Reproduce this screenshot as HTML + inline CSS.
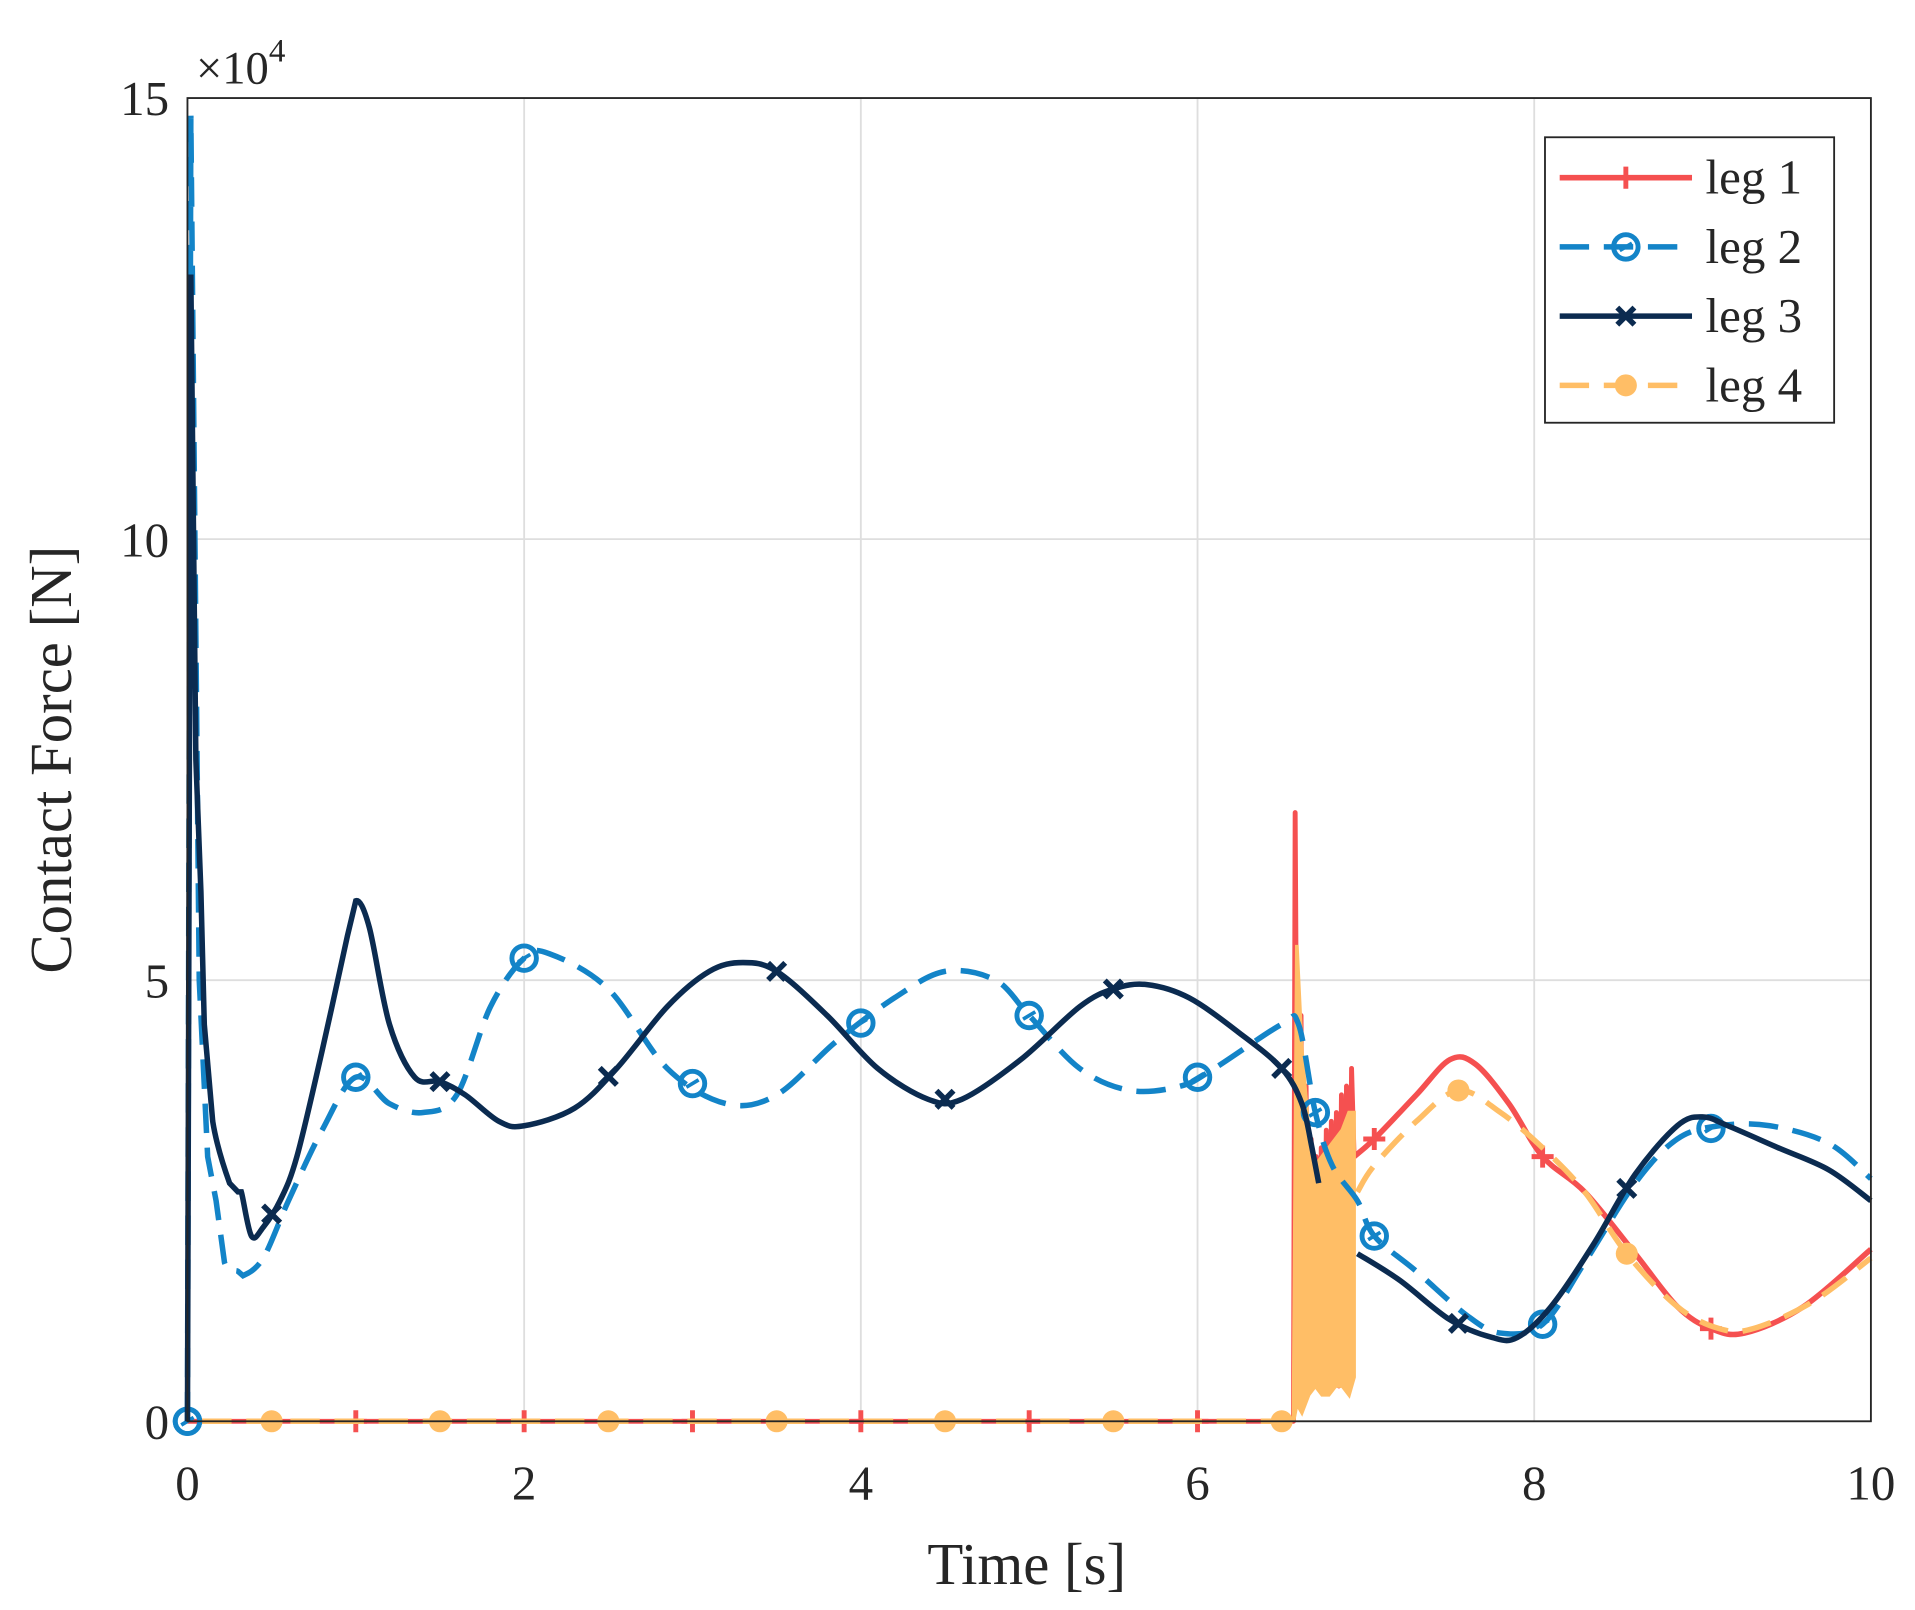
<!DOCTYPE html>
<html><head><meta charset="utf-8"><style>
html,body{margin:0;padding:0;background:#fff;}
svg{display:block;}
text{font-family:"Liberation Serif",serif;fill:#262626;}
</style></head><body>
<svg id="chart" width="1915" height="1610" viewBox="0 0 1563 1314" xmlns="http://www.w3.org/2000/svg">
<rect x="0" y="0" width="1563" height="1314" fill="#fff"/>
<g id="grid"></g>
<g id="series"></g>
<g id="axes"></g>
<text x="160" y="68" font-size="38">×10<tspan font-size="27" dy="-18">4</tspan></text>
<text x="838" y="1293" font-size="48" text-anchor="middle">Time [s]</text>
<text transform="translate(58,620) rotate(-90)" font-size="48" text-anchor="middle">Contact Force [N]</text>
<g id="legend"></g>
</svg>
<script>
const xTicks=[0,2,4,6,8,10];
const yTicks=[0,5,10,15];
// leg 3 (dark)
const t3=[0,0.02,0.05,0.08,0.1,0.15,0.25,0.3,0.32,0.38,0.45,0.55,0.65,0.8,0.95,1.0,1.08,1.2,1.35,1.5,1.65,1.85,2.0,2.3,2.55,2.85,3.1,3.3,3.5,3.8,4.1,4.4,4.6,4.95,5.3,5.5,5.7,5.95,6.25,6.5,6.62,6.68,6.72];
const v3=[0,13,7.5,6,4.5,3.4,2.7,2.6,2.6,2.1,2.2,2.5,3.0,4.2,5.5,5.9,5.6,4.5,3.9,3.85,3.7,3.4,3.35,3.55,4.0,4.7,5.1,5.2,5.1,4.6,4.0,3.65,3.65,4.1,4.7,4.9,4.95,4.8,4.4,4.0,3.6,3.1,2.7];
const t3b=[6.95,7.2,7.5,7.75,7.9,8.1,8.35,8.6,8.85,9.0,9.15,9.45,9.75,10];
const v3b=[1.9,1.6,1.15,0.95,0.95,1.3,2.0,2.8,3.35,3.45,3.35,3.1,2.85,2.5];
const m3=[0.5,1.5,2.5,3.5,4.5,5.5,6.5,7.55,8.55];
// leg 2 (blue dashed)
const t2=[0,0.02,0.07,0.12,0.17,0.22,0.3,0.33,0.45,0.6,0.8,1.0,1.2,1.4,1.6,1.8,2.0,2.15,2.5,2.85,3.2,3.5,3.85,4.2,4.5,4.8,5.0,5.3,5.6,5.9,6.1,6.5,6.6,6.7,6.8,6.95,7.05,7.3,7.6,7.8,8.05,8.3,8.6,8.85,9.1,9.4,9.75,10];
const v2=[0,14.8,5,3,2.5,1.8,1.7,1.65,1.85,2.5,3.3,3.9,3.6,3.5,3.7,4.7,5.25,5.3,4.9,4.0,3.6,3.7,4.3,4.8,5.1,5.0,4.6,4.0,3.75,3.8,4.0,4.5,4.5,3.5,2.9,2.5,2.1,1.7,1.2,1.0,1.1,1.8,2.7,3.2,3.35,3.35,3.15,2.75];
const m2=[0,1,2,3,4,5,6,6.7,7.05,8.05,9.05];
// leg 1 (red): baseline, spike/oscillation, smooth tail
const t1=[0,6.57,6.58,6.6,6.615,6.63,6.645,6.66,6.675,6.69,6.705,6.72,6.735,6.75,6.765,6.78,6.795,6.81,6.825,6.84,6.855,6.87,6.885,6.9,6.915,6.93];
const v1=[0,0,6.9,0.2,4.6,0.3,3.8,0.4,3.2,0.5,3.0,0.4,3.1,0.5,3.3,0.4,3.4,0.5,3.5,0.4,3.7,0.5,3.8,0.4,4.0,3.0];
const t1b=[6.93,7.05,7.3,7.5,7.65,7.85,8.05,8.3,8.6,8.85,9.05,9.25,9.6,10];
const v1b=[3.0,3.2,3.7,4.1,4.05,3.6,3.0,2.6,1.9,1.3,1.05,1.0,1.3,1.95];
const m1=[1,2,3,4,5,6,7.05,8.05,9.05];
// leg 4 (orange dashed) + oscillation band
const t4=[6.95,7.05,7.3,7.55,7.8,8.05,8.3,8.55,8.85,9.1,9.3,9.65,10];
const v4=[2.6,2.9,3.4,3.75,3.5,3.1,2.6,1.9,1.3,1.05,1.05,1.35,1.85];
const tBand=[6.57,6.59,6.62,6.66,6.7,6.74,6.78,6.82,6.86,6.9,6.93];
const bandHi=[0,5.4,4.2,3.3,2.9,3.0,3.1,3.2,3.3,3.5,3.5];
const bandLo=[0,0.2,0.1,0.3,0.4,0.3,0.3,0.4,0.4,0.3,0.5];
const m4=[0.5,1.5,2.5,3.5,4.5,5.5,6.5,7.55,8.55];

const X0=153,X1=1527,Y0=1160,Y1=80;
const sx=t=>X0+(X1-X0)*t/10;
const sy=v=>Y0-(Y0-Y1)*v/15;
const NS='http://www.w3.org/2000/svg';
function mk(tag,parent,attrs){const e=document.createElementNS(NS,tag);for(const k in attrs)e.setAttribute(k,attrs[k]);parent.appendChild(e);return e;}
function interp(ts,vs,t){for(let i=1;i<ts.length;i++){if(t<=ts[i]){const f=(t-ts[i-1])/(ts[i]-ts[i-1]||1);return vs[i-1]+f*(vs[i]-vs[i-1]);}}return vs[vs.length-1];}
function linePath(ts,vs){return 'M'+ts.map((t,i)=>sx(t)+','+sy(vs[i])).join(' L');}
function smoothPath(ts,vs){const p=ts.map((t,i)=>[sx(t),sy(vs[i])]);let d='M'+p[0][0]+','+p[0][1];
for(let i=0;i<p.length-1;i++){const p0=p[i-1]||p[i],p1=p[i],p2=p[i+1],p3=p[i+2]||p2;
const k=(p2[0]-p1[0]<8)?0:1/6;
d+=' C'+(p1[0]+(p2[0]-p0[0])*k)+','+(p1[1]+(p2[1]-p0[1])*k)+' '+(p2[0]-(p3[0]-p1[0])*k)+','+(p2[1]-(p3[1]-p1[1])*k)+' '+p2[0]+','+p2[1];}return d;}

const grid=document.getElementById('grid');
xTicks.forEach(t=>{const l=mk('line',grid,{x1:sx(t),x2:sx(t),y1:Y1,y2:Y0,stroke:'#dedede','stroke-width':1.5});

});
yTicks.forEach(v=>{const l=mk('line',grid,{x1:X0,x2:X1,y1:sy(v),y2:sy(v),stroke:'#dedede','stroke-width':1.5});

});
const axes=document.getElementById('axes');
const fr=mk('rect',axes,{x:X0,y:Y1,width:X1-X0,height:Y0-Y1,fill:'none',stroke:'#262626','stroke-width':1.5});


xTicks.forEach(t=>{const tx=mk('text',axes,{x:sx(t),y:1224,'font-size':40,'text-anchor':'middle'});tx.textContent=t;

});
yTicks.forEach(v=>{const tx=mk('text',axes,{x:138,y:sy(v)+14,'font-size':40,'text-anchor':'end'});tx.textContent=v;

});

const S=document.getElementById('series');
const C1='#f55050',C2='#1384c8',C3='#0b2b50',C4='#ffbe66';
function marker(g,type,x,y,c){
 if(type==='plus'){mk('path',g,{d:`M${x-9},${y}H${x+9}M${x},${y-9}V${y+9}`,stroke:c,'stroke-width':4,fill:'none'});}
 else if(type==='circle'){mk('circle',g,{cx:x,cy:y,r:10,fill:'none',stroke:c,'stroke-width':4});mk('line',g,{x1:x-5,y1:y+3,x2:x+5,y2:y-3,stroke:c,'stroke-width':3});}
 else if(type==='x'){mk('path',g,{d:`M${x-7},${y-7}L${x+7},${y+7}M${x-7},${y+7}L${x+7},${y-7}`,stroke:c,'stroke-width':4.5,fill:'none'});}
 else {mk('circle',g,{cx:x,cy:y,r:9,fill:c});}
}
function v4at(t){return t<6.95?0:interp(t4,v4,t);}
// leg 1
const g1=mk('g',S,{});


mk('path',g1,{d:linePath(t1,v1),fill:'none',stroke:C1,'stroke-width':4,'stroke-linejoin':'round'});
mk('path',g1,{d:smoothPath(t1b,v1b),fill:'none',stroke:C1,'stroke-width':4.5});
m1.forEach(t=>marker(g1,'plus',sx(t),sy(t<6.93?0:interp(t1b,v1b,t)),C1));
// leg 4
const g4=mk('g',S,{});


let bd='M'+tBand.map((t,i)=>sx(t)+','+sy(bandHi[i])).join(' L')+' L'+tBand.slice().reverse().map((t,i)=>sx(t)+','+sy(bandLo[bandLo.length-1-i])).join(' L')+'Z';
mk('path',g4,{d:bd,fill:C4,stroke:C4,'stroke-width':3});
mk('path',g4,{d:`M${sx(0)},${sy(0)}H${sx(6.57)}`,stroke:C4,'stroke-width':4.5,'stroke-dasharray':'24 12','stroke-dashoffset':'-12'});
mk('path',g4,{d:smoothPath(t4,v4),fill:'none',stroke:C4,'stroke-width':4.5,'stroke-dasharray':'24 12'});
m4.forEach(t=>marker(g4,'star',sx(t),sy(v4at(t)),C4));
// leg 2
const g2=mk('g',S,{});


mk('path',g2,{d:smoothPath(t2,v2),fill:'none',stroke:C2,'stroke-width':4.5,'stroke-dasharray':'24 12'});
m2.forEach(t=>marker(g2,'circle',sx(t),sy(interp(t2,v2,t)),C2));
// leg 3
const g3=mk('g',S,{});


mk('path',g3,{d:smoothPath(t3,v3),fill:'none',stroke:C3,'stroke-width':4.5});
mk('path',g3,{d:smoothPath(t3b,v3b),fill:'none',stroke:C3,'stroke-width':4.5});
m3.forEach(t=>{const v=t<6.9?interp(t3,v3,t):interp(t3b,v3b,t);marker(g3,'x',sx(t),sy(v),C3);});
marker(g2,'circle',sx(0),sy(0),C2);

// legend
const L=document.getElementById('legend');
const lb=mk('rect',L,{x:1261,y:112,width:236,height:233,fill:'#fff',stroke:'#262626','stroke-width':1.5});


const leg=[['leg 1',C1,'plus',''],['leg 2',C2,'circle','24 12'],['leg 3',C3,'x',''],['leg 4',C4,'star','24 12']];
leg.forEach((e,i)=>{const y=145+i*56.5;const g=mk('g',L,{});


mk('line',g,{x1:1273,x2:1381,y1:y,y2:y,stroke:e[1],'stroke-width':4.5,'stroke-dasharray':e[3]||'none'});
marker(g,e[2],1327,y,e[1]);
const tx=mk('text',g,{x:1392,y:y+13,'font-size':40});tx.textContent=e[0];});
</script>
</body></html>
